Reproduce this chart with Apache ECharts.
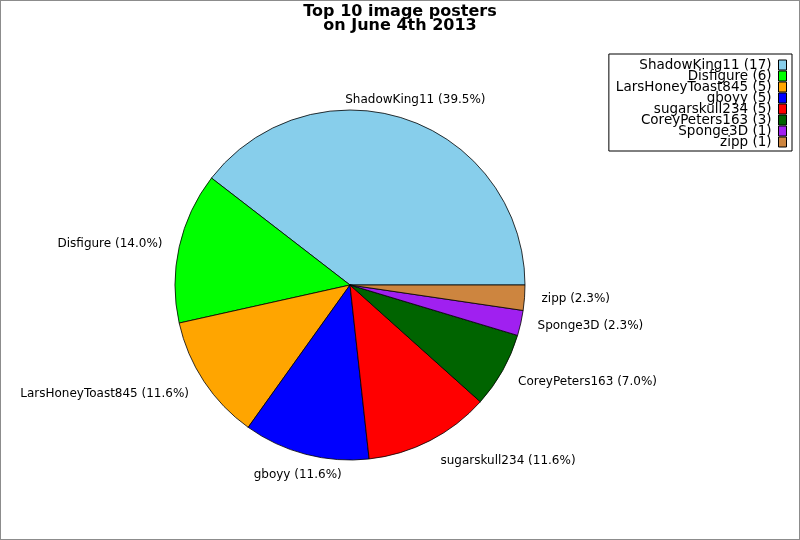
<!DOCTYPE html>
<html>
<head>
<meta charset="utf-8">
<script src="https://cdn.jsdelivr.net/npm/echarts@6/dist/echarts.min.js"></script>
<style>
html, body { margin: 0; padding: 0; background: #fff; }
#wrap { position: relative; width: 800px; height: 540px; }
#chart { width: 800px; height: 540px; }
#frame { position: absolute; left: 0; top: 0; width: 800px; height: 540px; box-sizing: border-box; border: 1px solid #8c8c8c; pointer-events: none; }
</style>
</head>
<body>
<div id="wrap">
	<div id="chart"></div>
	<div id="frame"></div>
</div>
<script>
// top posters, counts
var posters = ['ShadowKing11', 'Disfigure', 'LarsHoneyToast845', 'gboyy', 'sugarskull234', 'CoreyPeters163', 'Sponge3D', 'zipp'];
var counts  = [17, 6, 5, 5, 5, 3, 1, 1];
var colours = ['#87CEEB', '#00FF00', '#FFA500', '#0000FF', '#FF0000', '#006400', '#A020F0', '#CD853F'];

var total = 0;
for (var i = 0; i < counts.length; i++) total += counts[i];

// middle angle of every slice, counter clockwise from 3 o'clock
var midAngle = [];
var acc = 0;
for (var i = 0; i < counts.length; i++) {
	midAngle.push((acc + counts[i] / 2) / total * 360);
	acc += counts[i];
}

var pieData = [];
for (var i = 0; i < posters.length; i++) {
	pieData.push({ name: posters[i], value: counts[i], itemStyle: { color: colours[i] } });
}

var chart = echarts.init(document.getElementById('chart'));
chart.setOption({
	animation: false,
	title: {
		text: 'Top 10 image posters\non June 4th 2013',
		left: 'center',
		top: 0,
		textStyle: { fontFamily: 'DejaVu Sans', fontSize: 16, fontWeight: 'bold', color: '#000', lineHeight: 14 }
	},
	legend: {
		orient: 'vertical',
		right: 8,
		top: 54,
		align: 'right',
		icon: 'rect',
		itemWidth: 8,
		itemHeight: 10,
		itemGap: -3,
		padding: [4, 5, 2, 7],
		borderColor: '#000',
		borderWidth: 1,
		itemStyle: { borderColor: '#000', borderWidth: 1 },
		textStyle: { fontFamily: 'DejaVu Sans', fontSize: 13.5, color: '#000', padding: [0, 2, 0, 0] },
		formatter: function (name) {
			return name + ' (' + counts[posters.indexOf(name)] + ')';
		},
		data: posters
	},
	series: [{
		type: 'pie',
		center: [350, 285],
		radius: 175,
		startAngle: 0,
		clockwise: false,
		avoidLabelOverlap: false,
		itemStyle: { borderColor: '#000', borderWidth: 0.8 },
		label: {
			show: true,
			position: 'outside',
			formatter: function (p) {
				return p.name + ' (' + (p.value / total * 100).toFixed(1) + '%)';
			},
			fontFamily: 'DejaVu Sans',
			fontSize: 12,
			color: '#000'
		},
		labelLine: { show: false, length: 12, length2: 0 },
		labelLayout: function (p) {
			var a = midAngle[p.dataIndex] * Math.PI / 180;
			var c = Math.cos(a), s = Math.sin(a);
			if (Math.abs(c) < 0.4) {
				// labels near top and bottom sit centred over the slice
				return { dx: (c >= 0 ? -1 : 1) * p.labelRect.width / 2, dy: -s * 9 };
			}
			// steep side labels drift away vertically
			return { dy: Math.abs(s) > 0.4 ? -s * 11 : 0 };
		},
		data: pieData
	}]
});
</script>
</body>
</html>
